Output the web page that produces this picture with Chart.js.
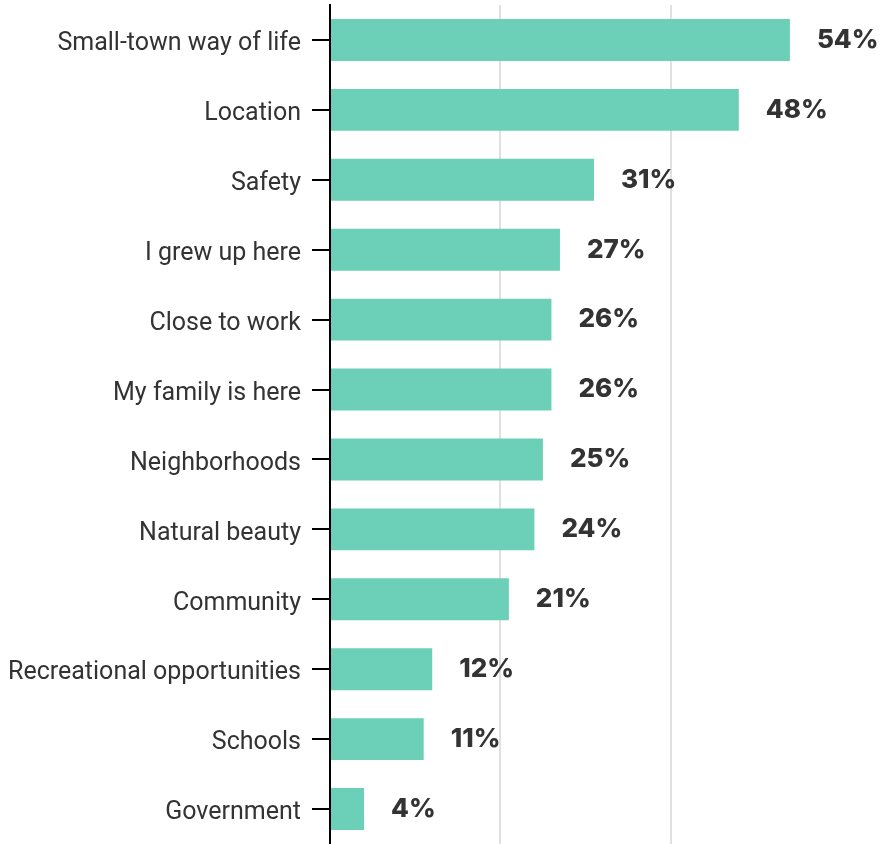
<!DOCTYPE html>
<html>
<head>
<meta charset="utf-8">
<script src="https://cdn.jsdelivr.net/npm/chart.js@4/dist/chart.umd.min.js"></script>
<style>
  html, body { margin: 0; padding: 0; background: #fff; }
  #wrap { width: 893px; height: 844px; }
</style>
</head>
<body>
<div id="wrap"><canvas id="chart"></canvas></div>
<script>
const categories = [
  'Small-town way of life', 'Location', 'Safety', 'I grew up here',
  'Close to work', 'My family is here', 'Neighborhoods', 'Natural beauty',
  'Community', 'Recreational opportunities', 'Schools', 'Government'
];
const percents = [54, 48, 31, 27, 26, 26, 25, 24, 21, 12, 11, 4];
const gridValues = [20, 40];

const ctx = document.getElementById('chart').getContext('2d');

// percent labels to the right of each bar
const valueLabels = {
  id: 'valueLabels',
  afterDatasetsDraw(chart) {
    const c = chart.ctx;
    const meta = chart.getDatasetMeta(0);
    c.save();
    c.font = '800 26px Inter, "Open Sans", sans-serif';
    c.fillStyle = '#333333';
    c.textAlign = 'left';
    c.textBaseline = 'middle';
    meta.data.forEach((bar, i) => {
      c.fillText(percents[i] + '%', bar.x + 27, bar.y);
    });
    c.restore();
  }
};

new Chart(ctx, {
  type: 'bar',
  data: {
    labels: categories,
    datasets: [{
      data: percents,
      backgroundColor: '#6ccfb7',
      borderWidth: 0,
      categoryPercentage: 0.6,
      barPercentage: 1
    }]
  },
  options: {
    indexAxis: 'y',
    responsive: true,
    maintainAspectRatio: false,
    animation: false,
    layout: { padding: { top: 5, right: 52, bottom: 0, left: 0 } },
    plugins: { legend: { display: false }, tooltip: { enabled: false } },
    scales: {
      x: {
        min: 0,
        max: 60,
        ticks: { display: false, stepSize: 20 },
        border: { display: false },
        grid: {
          drawTicks: false,
          lineWidth: 2,
          color: c => gridValues.includes(c.tick && c.tick.value) ? '#e0e0e0' : 'rgba(0,0,0,0)'
        },
        afterFit: s => { s.height = 0; s.paddingLeft = 0; s.paddingRight = 0; }
      },
      y: {
        border: { display: true, color: '#000', width: 2 },
        grid: {
          offset: false,
          drawOnChartArea: false,
          drawTicks: true,
          tickLength: 18,
          tickColor: '#000',
          lineWidth: 2
        },
        ticks: {
          color: '#333333',
          padding: 11,
          labelOffset: 4,
          font: { family: 'Roboto, sans-serif', size: 25 }
        },
        afterFit: s => { s.width = 330; s.paddingTop = 0; s.paddingBottom = 0; }
      }
    }
  },
  plugins: [valueLabels]
});
</script>
</body>
</html>
